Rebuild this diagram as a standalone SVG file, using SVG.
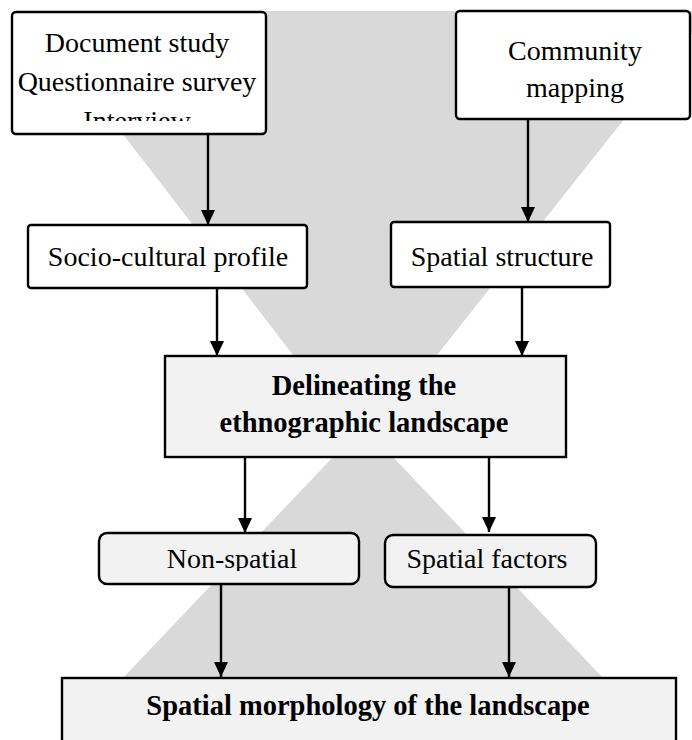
<svg xmlns="http://www.w3.org/2000/svg" width="692" height="740" viewBox="0 0 692 740">
<style>
.bg{fill:#d9d9d9}
.box{stroke:#000;stroke-width:2.4}
.w{fill:#ffffff}
.g{fill:#f2f2f2}
.t{font-family:"Liberation Serif","Times New Roman",serif;font-size:28px;fill:#000;text-anchor:middle}
.b{font-weight:bold;font-size:28.5px}
.c{stroke:#000;stroke-width:2.4;fill:none;marker-end:url(#ah)}
</style>
<defs>
<marker id="ah" markerUnits="userSpaceOnUse" markerWidth="16" markerHeight="14" refX="15" refY="7" orient="auto" viewBox="0 0 16 14">
<path d="M0,0 L15,7 L0,14 Z" fill="#000"/>
</marker>
<clipPath id="clip1"><rect x="12" y="12" width="254" height="109"/></clipPath>
<clipPath id="clip2"><rect x="99" y="533" width="260" height="38"/></clipPath>
</defs>
<g id="background">
<polygon class="bg" points="28,11 710,11 364,447"/>
<polygon class="bg" points="333,457 393,457 662,740 64,740"/>
</g>
<g id="methods">
<rect class="box w" x="12" y="12" width="254" height="122" rx="4"/>
<g clip-path="url(#clip1)">
<text class="t" x="137" y="52">Document study</text>
<text class="t" x="137" y="91">Questionnaire survey</text>
<text class="t" x="137" y="130">Interview</text>
</g>
</g>
<g id="community">
<rect class="box w" x="456" y="11" width="234" height="108" rx="4"/>
<text class="t" x="575" y="60">Community</text>
<text class="t" x="575" y="97">mapping</text>
</g>
<g id="socio">
<rect class="box w" x="28" y="225" width="279" height="63" rx="3"/>
<text class="t" x="168" y="266">Socio-cultural profile</text>
</g>
<g id="spatialstructure">
<rect class="box w" x="391" y="222" width="219" height="65" rx="3"/>
<text class="t" x="502" y="266">Spatial structure</text>
</g>
<g id="delineating">
<rect class="box g" x="165" y="356" width="401" height="101"/>
<text class="t b" x="364" y="395">Delineating the</text>
<text class="t b" x="364" y="432">ethnographic landscape</text>
</g>
<g id="nonspatial">
<rect class="box g" x="99" y="533" width="260" height="51" rx="8"/>
<g clip-path="url(#clip2)">
<text class="t" x="232" y="568">Non-spatial</text>
</g>
</g>
<g id="spatialfactors">
<rect class="box g" x="385" y="535" width="211" height="52" rx="8"/>
<text class="t" x="487" y="568">Spatial factors</text>
</g>
<g id="morphology">
<rect class="box g" x="62" y="678" width="614" height="80"/>
<text class="t b" x="368" y="715">Spatial morphology of the landscape</text>
</g>
<g id="connectors">
<line class="c" x1="208" y1="135" x2="208" y2="225"/>
<line class="c" x1="528" y1="120" x2="528" y2="222"/>
<line class="c" x1="217" y1="289" x2="217" y2="356"/>
<line class="c" x1="522" y1="288" x2="522" y2="356"/>
<line class="c" x1="245" y1="458" x2="245" y2="533"/>
<line class="c" x1="489" y1="458" x2="489" y2="532"/>
<line class="c" x1="221" y1="585" x2="221" y2="677"/>
<line class="c" x1="509" y1="588" x2="509" y2="677"/>
</g>
</svg>
